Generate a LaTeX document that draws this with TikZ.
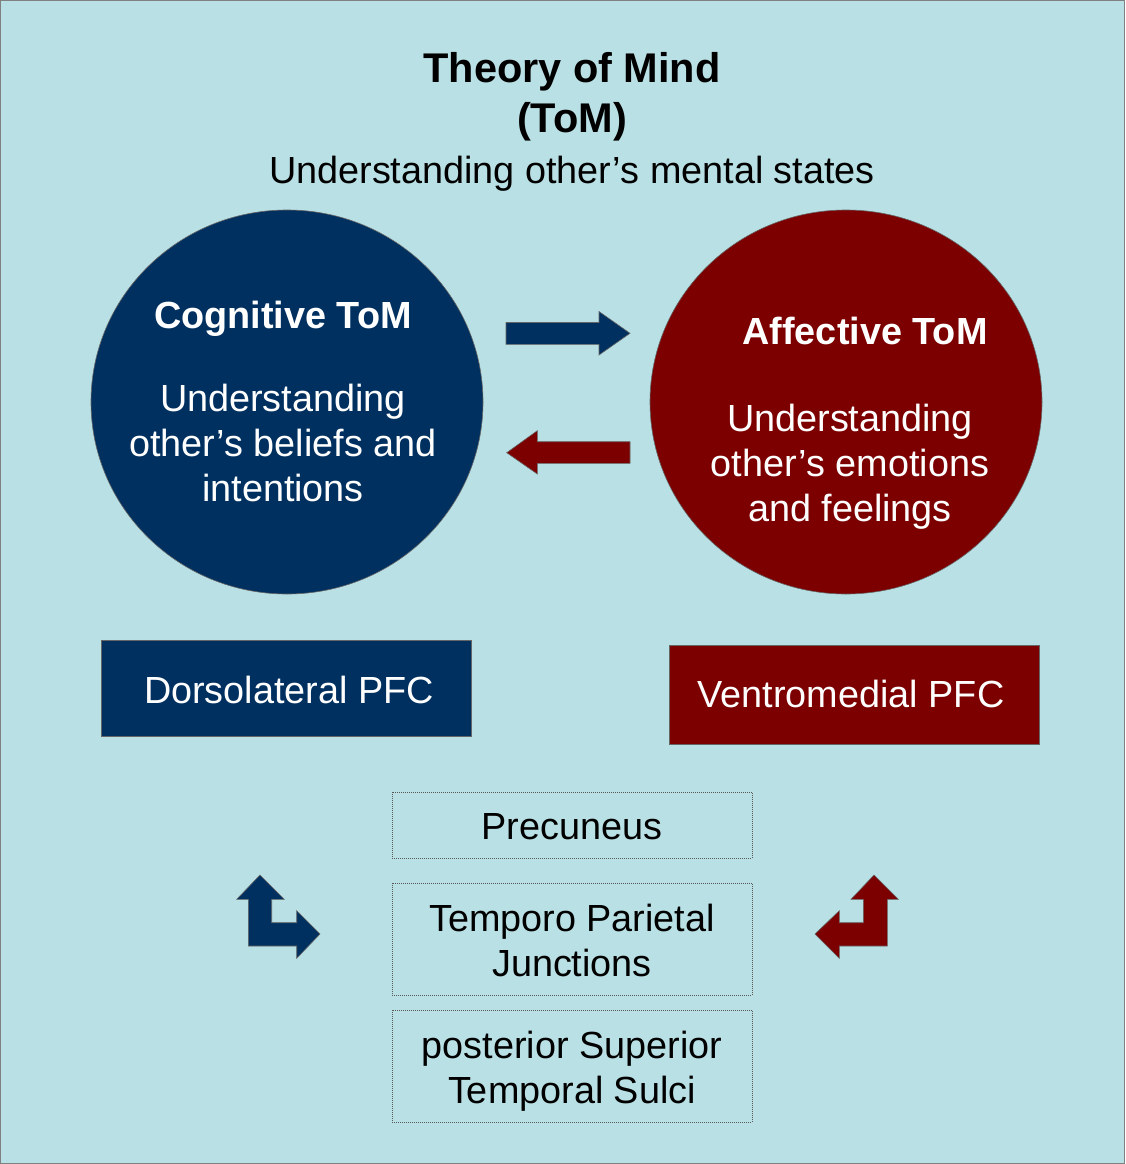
\documentclass[tikz,border=0pt]{standalone}
\usepackage{fontspec}
\setmainfont{Liberation Sans}
\definecolor{bgc}{HTML}{B9E0E4}
\definecolor{navy}{HTML}{00305F}
\definecolor{dred}{HTML}{7C0000}
\begin{document}
\begin{tikzpicture}[x=1pt,y=-1pt,
  txt/.style={font=\fontsize{37.8}{45}\selectfont, align=center, inner sep=0pt},
  ttl/.style={font=\fontsize{41.5}{50}\selectfont\bfseries, align=center, inner sep=0pt},
  bluefill/.style={fill=navy, draw=black!60, line width=0.6pt},
  redfill/.style={fill=dred, draw=black!60, line width=0.6pt},
  dotbox/.style={draw=black!65, dash pattern=on 1pt off 1pt, line width=0.7pt}]
\useasboundingbox (0,0) rectangle (1125,1164);
\fill[bgc] (0,0) rectangle (1125,1164);
\draw[gray, line width=1.2pt] (0.8,0.8) rectangle (1124.2,1163.2);

% title
\node[ttl] (title) at (572,97) {Theory of Mind\\(ToM)};
\node[txt] (sub) at (572,173.5) {Understanding other’s mental states};

% circles
\draw[bluefill] (287,402) ellipse [x radius=196, y radius=192];
\draw[redfill] (846,402) ellipse [x radius=196, y radius=192];
\node[txt, text=white, font=\fontsize{37.8}{45}\selectfont\bfseries] (cogt) at (283,319) {Cognitive ToM};
\node[txt, text=white] (cogd) at (283,443) {Understanding\\other’s beliefs and\\intentions};
\node[txt, text=white, font=\fontsize{37.8}{45}\selectfont\bfseries] (afft) at (865,331) {Affective ToM};
\node[txt, text=white] (affd) at (850,467) {Understanding\\other’s emotions\\and feelings};

% horizontal arrows
\draw[bluefill] (506,322.5) -- (599,322.5) -- (599,311.5) -- (630,333.3) -- (599,355) -- (599,344.3) -- (506,344.3) -- cycle;
\draw[redfill] (630,441.7) -- (537.3,441.7) -- (537.3,430.7) -- (506.7,452.7) -- (537.3,474) -- (537.3,463.3) -- (630,463.3) -- cycle;

% PFC boxes
\draw[bluefill] (101,640) rectangle (471,736.5);
\node[txt, text=white] (dlpfc) at (289,690) {Dorsolateral PFC};
\draw[redfill] (669,645) rectangle (1039,744);
\node[txt, text=white] (vmpfc) at (851,694) {Ventromedial PFC};

% dotted boxes
\draw[dotbox] (392,792) rectangle (752,858);
\node[txt] (prec) at (572,827) {Precuneus};
\draw[dotbox] (392,883) rectangle (752,995);
\node[txt] (tpj) at (572,940.5) {Temporo Parietal\\Junctions};
\draw[dotbox] (392,1010) rectangle (752,1122);
\node[txt] (psts) at (572,1071) {posterior Superior\\Temporal Sulci};

% bent arrows
\draw[bluefill] (260,875) -- (284.3,899.3) -- (271.7,899.3) -- (271.7,922.7) -- (296.7,922.7) -- (296.7,910.7) -- (320,934) -- (296.7,958.3) -- (296.7,946) -- (248.3,946) -- (248.3,899.3) -- (236.7,899.3) -- cycle;
\draw[redfill] (874,875) -- (898.3,899.3) -- (887.3,899.3) -- (887.3,946) -- (839.3,946) -- (839.3,958.3) -- (815,934) -- (839.3,910.7) -- (839.3,922.7) -- (863.3,922.7) -- (863.3,899.3) -- (851,899.3) -- cycle;
\end{tikzpicture}
\end{document}
